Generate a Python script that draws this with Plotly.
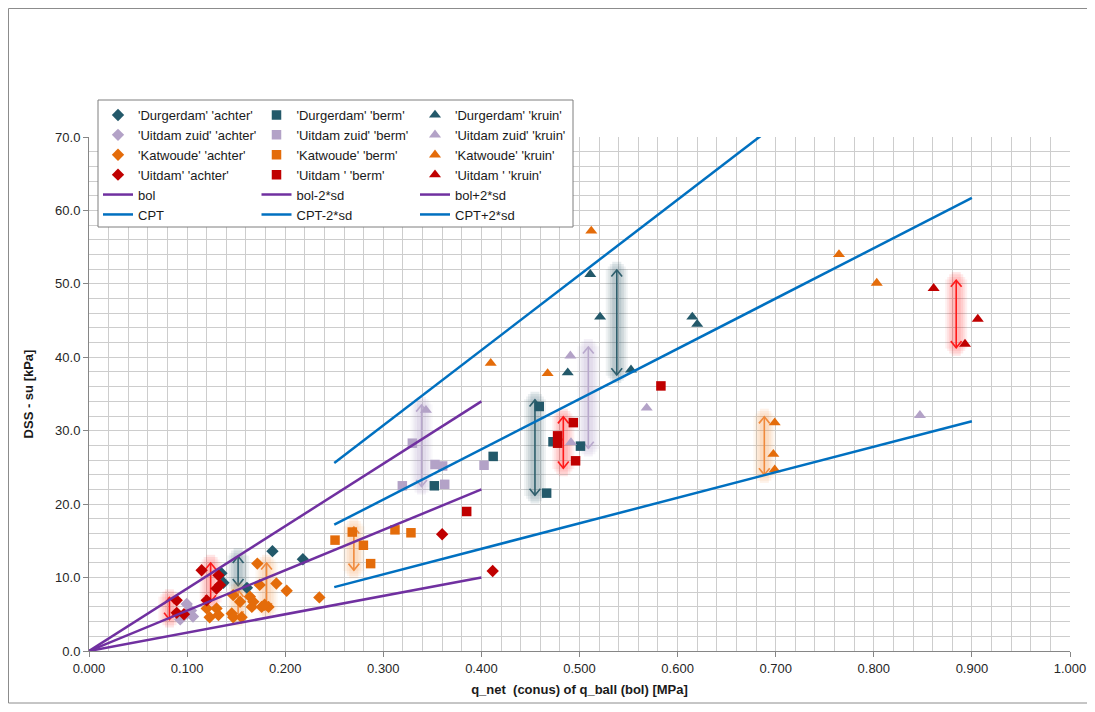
import plotly.graph_objects as go

# ---------------- data ----------------
# Durgerdam
durg_achter_x = [0.187, 0.218, 0.161, 0.135, 0.137]
durg_achter_y = [13.6, 12.5, 8.6, 10.6, 9.3]
durg_berm_x = [0.459, 0.473, 0.501, 0.412, 0.352, 0.4665]
durg_berm_y = [33.3, 28.5, 27.9, 26.5, 22.5, 21.5]
durg_kruin_x = [0.511, 0.521, 0.615, 0.620, 0.488, 0.5525]
durg_kruin_y = [51.3, 45.5, 45.5, 44.5, 37.9, 38.3]

# Uitdam zuid
uz_achter_x = [0.0996, 0.093, 0.106, 0.100, 0.104]
uz_achter_y = [6.4, 4.3, 4.7, 5.1, 5.5]
uz_berm_x = [0.3296, 0.3527, 0.3605, 0.3194, 0.3626, 0.4027]
uz_berm_y = [28.3, 25.4, 25.2, 22.5, 22.7, 25.3]
uz_kruin_x = [0.3435, 0.4907, 0.4913, 0.5685, 0.847]
uz_kruin_y = [32.8, 40.2, 28.4, 33.1, 32.1]

# Katwoude
kat_achter_x = [0.1716, 0.191, 0.2015, 0.2348, 0.174, 0.147, 0.164, 0.1675,
                0.120, 0.130, 0.123, 0.132, 0.1455, 0.147, 0.1556, 0.176,
                0.183, 0.154, 0.166, 0.179]
kat_achter_y = [11.9, 9.2, 8.2, 7.3, 9.0, 7.6, 7.4, 6.7,
                5.8, 5.8, 4.6, 4.9, 5.1, 4.6, 4.6, 6.0,
                6.0, 6.7, 6.0, 6.3]
kat_berm_x = [0.2508, 0.2684, 0.2797, 0.2871, 0.3119, 0.3282]
kat_berm_y = [15.1, 16.2, 14.4, 11.9, 16.5, 16.1]
kat_kruin_x = [0.512, 0.4095, 0.4675, 0.7645, 0.803, 0.699, 0.6976, 0.699]
kat_kruin_y = [57.2, 39.2, 37.8, 54.0, 50.1, 31.1, 26.8, 24.7]

# Uitdam
uit_achter_x = [0.0894, 0.0894, 0.0968, 0.1148, 0.132, 0.1335, 0.130, 0.120, 0.360, 0.4115]
uit_achter_y = [6.9, 5.2, 5.0, 11.0, 10.3, 9.0, 8.5, 6.9, 15.9, 10.9]
uit_berm_x = [0.385, 0.4777, 0.4777, 0.4937, 0.496, 0.583]
uit_berm_y = [19.0, 29.3, 28.3, 31.1, 25.9, 36.1]
uit_kruin_x = [0.861, 0.893, 0.906]
uit_kruin_y = [49.4, 41.8, 45.2]

# correlation lines
bol_x = [0.0, 0.4]
bol_y = [0.0, 22.0]
bol_min_y = [0.0, 10.0]
bol_plus_y = [0.0, 34.0]
cpt_x = [0.25, 0.9]
cpt_y = [17.2, 61.7]
cpt_min_y = [8.7, 31.3]
cpt_plus_y = [25.6, 92.2]

# highlighted ranges (double arrows): x, low, high, group
arrow_x = [0.082, 0.124, 0.152, 0.152, 0.181, 0.270, 0.339, 0.4546, 0.4835, 0.509, 0.538, 0.6884, 0.884]
arrow_lo = [4.3, 6.7, 8.9, 4.5, 5.6, 11.0, 22.4, 21.2, 24.9, 27.6, 37.6, 24.0, 41.3]
arrow_hi = [7.3, 12.0, 12.9, 8.3, 12.0, 16.9, 33.5, 34.2, 31.9, 41.4, 51.9, 31.9, 50.5]
arrow_grp = ['uit', 'uit', 'durg', 'kat', 'kat', 'kat', 'uz', 'durg', 'uit', 'uz', 'durg', 'kat', 'uit']

# ---------------- styles ----------------
C_DURG = '#23596A'
C_UZ = '#B3A2C7'
C_KAT = '#E46C0A'
C_UIT = '#C00000'
C_BOL = '#7030A0'
C_CPT = '#0070C0'

arrow_style = {
    'uit': ('#FF1A1A', (255, 40, 40)),
    'durg': ('#2E5E6C', (45, 90, 105)),
    'kat': ('#F08A3C', (247, 150, 70)),
    'uz': ('#B8A8CC', (170, 150, 195)),
}

FONT = 'Liberation Sans, Arial, sans-serif'

fig = go.Figure()

# arrows with soft glow (layered translucent strokes)
glow_layers = [(22, 0.07, 0.1), (18, 0.08, 0.45), (14, 0.10, 0.8), (9, 0.12, 1.1)]
for g, (main_col, rgb) in arrow_style.items():
    lx, ly, hx, hy = [], [], [], []
    sel = [(x, lo, hi) for x, lo, hi, gg in zip(arrow_x, arrow_lo, arrow_hi, arrow_grp) if gg == g]
    for x, lo, hi in sel:
        lx += [x, x, None]
        ly += [lo, hi, None]
        dx, dy = 0.0055, 0.9
        hx += [x - dx, x, x + dx, None, x - dx, x, x + dx, None]
        hy += [hi - dy, hi, hi - dy, None, lo + dy, lo, lo + dy, None]
    for w, a, ext in glow_layers:
        gx, gy = [], []
        for x, lo, hi in sel:
            gx += [x, x, None]
            gy += [lo - ext, hi + ext, None]
        fig.add_trace(go.Scatter(x=gx, y=gy, mode='lines', showlegend=False, hoverinfo='skip',
                                 line=dict(color='rgba(%d,%d,%d,%.2f)' % (rgb + (a,)), width=w)))
    fig.add_trace(go.Scatter(x=lx + hx, y=ly + hy, mode='lines', showlegend=False, hoverinfo='skip',
                             line=dict(color=main_col, width=1.6)))

# lines
def line_trace(x, y, name, color, legend):
    fig.add_trace(go.Scatter(x=x, y=y, mode='lines', name=name, legend=legend,
                             line=dict(color=color, width=2.5)))

# markers
def mk(x, y, name, color, symbol, size, legend):
    fig.add_trace(go.Scatter(x=x, y=y, mode='markers', name=name, legend=legend,
                             marker=dict(color=color, symbol=symbol, size=size, line=dict(width=0))))

mk(durg_achter_x, durg_achter_y, "'Durgerdam' 'achter'", C_DURG, 'diamond', 9.5, 'legend')
mk(uz_achter_x, uz_achter_y, "'Uitdam zuid' 'achter'", C_UZ, 'diamond', 9.5, 'legend')
mk(kat_achter_x, kat_achter_y, "'Katwoude' 'achter'", C_KAT, 'diamond', 9.5, 'legend')
mk(uit_achter_x, uit_achter_y, "'Uitdam' 'achter'", C_UIT, 'diamond', 9.5, 'legend')

mk(durg_berm_x, durg_berm_y, "'Durgerdam' 'berm'", C_DURG, 'square', 9.5, 'legend2')
mk(uz_berm_x, uz_berm_y, "'Uitdam zuid' 'berm'", C_UZ, 'square', 9.5, 'legend2')
mk(kat_berm_x, kat_berm_y, "'Katwoude' 'berm'", C_KAT, 'square', 9.5, 'legend2')
mk(uit_berm_x, uit_berm_y, "'Uitdam ' 'berm'", C_UIT, 'square', 9.5, 'legend2')

mk(durg_kruin_x, durg_kruin_y, "'Durgerdam' 'kruin'", C_DURG, 'triangle-up', 10.5, 'legend3')
mk(uz_kruin_x, uz_kruin_y, "'Uitdam zuid' 'kruin'", C_UZ, 'triangle-up', 10.5, 'legend3')
mk(kat_kruin_x, kat_kruin_y, "'Katwoude' 'kruin'", C_KAT, 'triangle-up', 10.5, 'legend3')
mk(uit_kruin_x, uit_kruin_y, "'Uitdam ' 'kruin'", C_UIT, 'triangle-up', 10.5, 'legend3')

line_trace(bol_x, bol_y, 'bol', C_BOL, 'legend')
line_trace(cpt_x, cpt_y, 'CPT', C_CPT, 'legend')
line_trace(bol_x, bol_min_y, 'bol-2*sd', C_BOL, 'legend2')
line_trace(cpt_x, cpt_min_y, 'CPT-2*sd', C_CPT, 'legend2')
line_trace(bol_x, bol_plus_y, 'bol+2*sd', C_BOL, 'legend3')
line_trace(cpt_x, cpt_plus_y, 'CPT+2*sd', C_CPT, 'legend3')

# ---------------- layout ----------------
OFF = 8  # page body margin
W, H = 1095 - OFF, 712 - OFF
# plot area in window pixels: x 89..1070, y 137..651
L = 89 - OFF
T = 137 - OFF
R = W - (1070 - OFF)
B = H - (651 - OFF)
pw, ph = W - L - R, H - T - B

def px2x(p):  # window px -> paper x
    return (p - OFF - L) / pw

def py2y(p):  # window px -> paper y
    return (T + ph - (p - OFF)) / ph

leg_common = dict(yanchor='top', xanchor='left', bgcolor='rgba(0,0,0,0)', borderwidth=0,
                  font=dict(family=FONT, size=13, color='#1a1a1a'), traceorder='normal',
                  orientation='v', itemwidth=30)
leg_top = py2y(100)

grid_col = '#CDCDCD'
axis_col = '#868686'
tick_font = dict(family=FONT, size=13, color='#262626')

fig.update_layout(
    width=W, height=H,
    margin=dict(l=L, r=R, t=T, b=B, autoexpand=False),
    paper_bgcolor='white', plot_bgcolor='white',
    font=dict(family=FONT),
    showlegend=True,
    legend=dict(x=px2x(98), y=leg_top, **leg_common),
    legend2=dict(x=px2x(256.5), y=leg_top, **leg_common),
    legend3=dict(x=px2x(415), y=leg_top, **leg_common),
    xaxis=dict(range=[0, 1], dtick=0.1, tick0=0, tickformat='.3f', showgrid=True,
               gridcolor=grid_col, gridwidth=1,
               minor=dict(dtick=0.02, showgrid=True, gridcolor=grid_col, gridwidth=1, ticks=''),
               ticks='outside', ticklen=5, tickcolor=axis_col, showline=True, linecolor=axis_col,
               linewidth=1, zeroline=False, tickfont=tick_font,
               title=dict(text='<b>q_net\u00a0 (conus) of q_ball (bol) [MPa]</b>',
                          font=dict(family=FONT, size=13, color='#1a1a1a'), standoff=10)),
    yaxis=dict(range=[0, 70], dtick=10, tick0=0, tickformat='.1f', showgrid=True,
               gridcolor=grid_col, gridwidth=1,
               minor=dict(dtick=2, showgrid=True, gridcolor=grid_col, gridwidth=1, ticks=''),
               ticks='outside', ticklen=5, tickcolor=axis_col, showline=True, linecolor=axis_col,
               linewidth=1, zeroline=False, tickfont=tick_font,
               title=dict(text='<b>DSS - su [kPa]</b>',
                          font=dict(family=FONT, size=13, color='#1a1a1a'), standoff=18)),
    shapes=[
        # legend frame
        dict(type='rect', xref='paper', yref='paper', layer='above',
             x0=px2x(98), x1=px2x(573), y0=py2y(227), y1=py2y(100),
             fillcolor='white', line=dict(color='#7F7F7F', width=1)),
        # outer chart border
        dict(type='rect', xref='paper', yref='paper', layer='above',
             x0=px2x(8.5), x1=px2x(1089), y0=py2y(703), y1=py2y(8.5),
             fillcolor='rgba(0,0,0,0)', line=dict(color='#8C8C8C', width=1)),
    ],
)

fig.write_html('out.html')
